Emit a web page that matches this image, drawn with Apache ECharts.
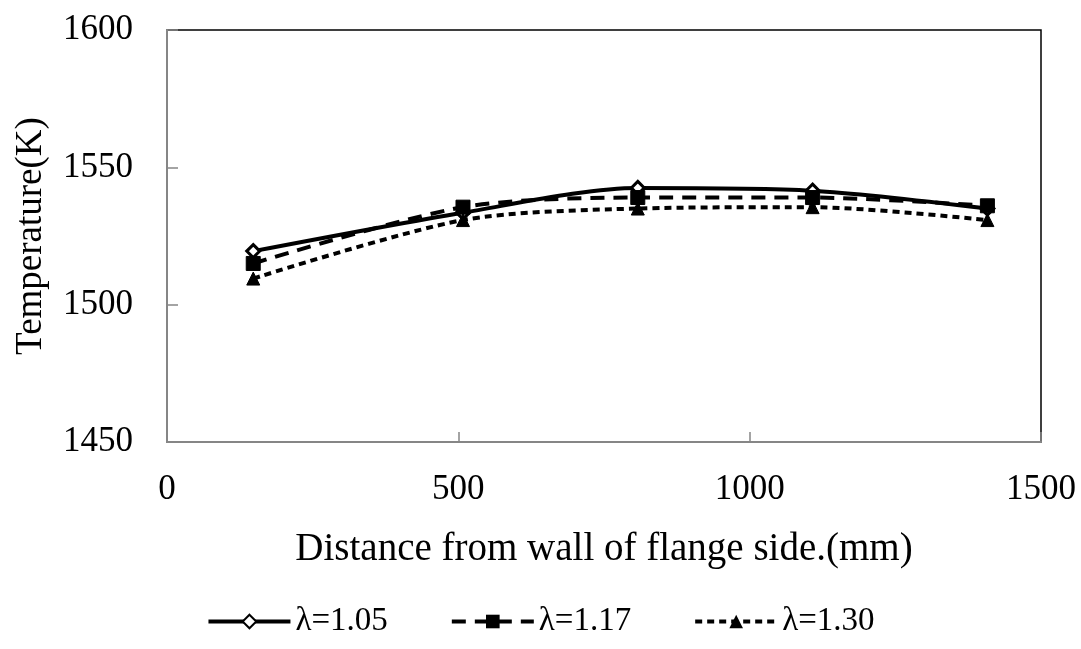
<!DOCTYPE html>
<html>
<head>
<meta charset="utf-8">
<script src="https://cdn.jsdelivr.net/npm/echarts@6/dist/echarts.min.js"></script>
<style>html,body{margin:0;padding:0;background:#fff;}#c{width:1081px;height:649px;}</style>
</head>
<body>
<div id="c"></div>
<script>
const distances = [148, 508, 808, 1108, 1408];
const seriesNames = ['λ=1.05', 'λ=1.17', 'λ=1.30'];
const temp105 = [1519.5, 1533.5, 1542.5, 1541.5, 1535];
const temp117 = [1515, 1535.5, 1539, 1539, 1536];
const temp130 = [1509.5, 1530.8, 1535, 1535.5, 1530.8];
const xTicks = [0, 500, 1000, 1500];
const yTicks = [1450, 1500, 1550, 1600];

const font = 'Liberation Serif, Times New Roman, serif';
const chart = echarts.init(document.getElementById('c'));
function pairs(v){ return distances.map((d,i)=>[d, v[i]]); }
chart.setOption({
  backgroundColor: '#fff',
  animation: false,
  grid: { left: 167, right: 40, top: 30, bottom: 207, show: true, borderColor: '#000', borderWidth: 1.5, backgroundColor: 'transparent' },
  xAxis: {
    type: 'value', min: xTicks[0], max: xTicks[xTicks.length-1], interval: 500,
    name: 'Distance from wall of flange side.(mm)', nameLocation: 'middle', nameGap: 88,
    nameTextStyle: { fontFamily: font, fontSize: 39, color: '#000' },
    axisLine: { show: true, lineStyle: { color: '#868686', width: 2 } },
    axisTick: { show: true, inside: true, length: 10, lineStyle: { color: '#868686', width: 1.5 } },
    axisLabel: { fontFamily: font, fontSize: 35, color: '#000', margin: 30, formatter: v => String(v) },
    splitLine: { show: false }
  },
  yAxis: {
    type: 'value', min: yTicks[0], max: yTicks[yTicks.length-1], interval: 50,
    name: 'Temperature(K)', nameLocation: 'middle', nameGap: 117,
    nameTextStyle: { fontFamily: font, fontSize: 37, color: '#000' },
    axisLine: { show: true, lineStyle: { color: '#868686', width: 2 } },
    axisTick: { show: true, inside: true, length: 11, lineStyle: { color: '#868686', width: 1.5 } },
    axisLabel: { fontFamily: font, fontSize: 35, color: '#000', margin: 34, formatter: v => String(v) },
    splitLine: { show: false }
  },
  legend: {
    bottom: 6, left: 'center', itemWidth: 82, itemHeight: 17, itemGap: 62,
    textStyle: { fontFamily: font, fontSize: 33, color: '#000' },
    lineStyle: { width: 4 },
    data: seriesNames
  },
  series: [
    { name: seriesNames[0], type: 'line', data: pairs(temp105), smooth: 0.28,
      symbol: 'diamond', symbolSize: 13,
      lineStyle: { color: '#000', width: 4, type: 'solid' },
      itemStyle: { color: '#fff', borderColor: '#000', borderWidth: 3 } },
    { name: seriesNames[1], type: 'line', data: pairs(temp117), smooth: 0.28,
      symbol: 'rect', symbolSize: 14,
      lineStyle: { color: '#000', width: 4, type: [14, 9] },
      itemStyle: { color: '#000', borderColor: '#000' } },
    { name: seriesNames[2], type: 'line', data: pairs(temp130), smooth: 0.28,
      symbol: 'triangle', symbolSize: 13,
      lineStyle: { color: '#000', width: 4, type: [7, 5] },
      itemStyle: { color: '#000', borderColor: '#000' } }
  ]
});
</script>
</body>
</html>
